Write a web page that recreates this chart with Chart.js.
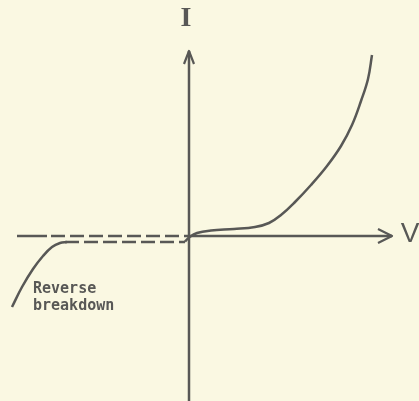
<!DOCTYPE html>
<html>
<head>
<meta charset="utf-8">
<script src="https://cdn.jsdelivr.net/npm/chart.js@4.4.1/dist/chart.umd.min.js"></script>
<style>
  html, body { margin: 0; padding: 0; background: #faf8e2; }
  #wrap { width: 419px; height: 401px; }
</style>
</head>
<body>
<div id="wrap"><canvas id="c" width="419" height="401"></canvas></div>
<script>
// Axis labels
const xAxisLabel = "V";
const yAxisLabel = "I";
const annotationLines = ["Reverse", "breakdown"];

// Forward-bias characteristic (V, I) in drawing units
const forwardV = [-4, 0, 8, 22, 45, 66, 80, 92, 106, 122, 138, 152, 163, 172, 179, 183];
const forwardI = [-5.5, -1.5, 3, 5.5, 7, 9, 13, 21, 34, 51, 70, 90, 111, 135, 157, 181];

// Reverse saturation region (dashed, flat)
const reverseV = [-124, -4];
const reverseI = [-6, -6];

// Reverse breakdown region (solid)
const breakdownV = [-177, -167, -156, -146, -137, -129, -122];
const breakdownI = [-71, -51, -33, -20, -11, -7, -6];

// Axes extents
const axisXmin = -172, axisXsolidEnd = -142, axisXdashStart = -138, axisXmax = 203;
const axisYmin = -170, axisYmax = 185;

const ink = "#585856";

function pts(xs, ys) { return xs.map((x, i) => ({ x: x, y: ys[i] })); }

const labelPlugin = {
  id: "labels",
  beforeDraw(chart) {
    const ctx = chart.ctx;
    ctx.save();
    ctx.fillStyle = "#faf8e2";
    ctx.fillRect(0, 0, chart.width, chart.height);
    ctx.restore();
  },
  afterDatasetsDraw(chart) {
    const ctx = chart.ctx, xs = chart.scales.x, ys = chart.scales.y;
    ctx.save();
    ctx.fillStyle = ink;
    ctx.textBaseline = "middle";
    ctx.textAlign = "center";
    ctx.font = "bold 28px 'Liberation Serif'";
    ctx.fillText(yAxisLabel, xs.getPixelForValue(-3), ys.getPixelForValue(217));
    ctx.font = "28px 'Liberation Sans'";
    ctx.fillText(xAxisLabel, xs.getPixelForValue(221), ys.getPixelForValue(2));
    ctx.textAlign = "left";
    ctx.font = "bold 15px 'DejaVu Sans Mono'";
    ctx.fillText(annotationLines[0], xs.getPixelForValue(-156), ys.getPixelForValue(-53));
    ctx.fillText(annotationLines[1], xs.getPixelForValue(-156), ys.getPixelForValue(-70));
    ctx.restore();
  }
};

const base = { borderColor: ink, borderWidth: 2.5, pointRadius: 0, showLine: true, fill: false, tension: 0 };

new Chart(document.getElementById("c"), {
  type: "scatter",
  data: {
    datasets: [
      Object.assign({}, base, { data: [{ x: 0, y: axisYmin }, { x: 0, y: axisYmax }] }),
      Object.assign({}, base, { data: [{ x: -5, y: 172 }, { x: 0, y: axisYmax }, { x: 5, y: 172 }], borderWidth: 2.2 }),
      Object.assign({}, base, { data: [{ x: 0, y: 0 }, { x: axisXmax, y: 0 }] }),
      Object.assign({}, base, { data: [{ x: 189, y: 7 }, { x: axisXmax, y: 0 }, { x: 189, y: -7 }], borderWidth: 2.2 }),
      Object.assign({}, base, { data: [{ x: axisXmin, y: 0 }, { x: axisXsolidEnd, y: 0 }] }),
      Object.assign({}, base, { data: [{ x: axisXdashStart, y: 0 }, { x: 0, y: 0 }], borderDash: [14, 5] }),
      Object.assign({}, base, { data: pts(reverseV, reverseI), borderDash: [14, 5] }),
      Object.assign({}, base, { data: pts(breakdownV, breakdownI), tension: 0.4 }),
      Object.assign({}, base, { data: pts(forwardV, forwardI), tension: 0.4 })
    ]
  },
  options: {
    responsive: false,
    animation: false,
    layout: { padding: 0 },
    plugins: { legend: { display: false }, tooltip: { enabled: false } },
    scales: {
      x: { type: "linear", min: -189, max: 230, display: false },
      y: { type: "linear", min: -165, max: 236, display: false }
    },
    elements: { line: { borderCapStyle: "butt", borderJoinStyle: "round" } }
  },
  plugins: [labelPlugin]
});
</script>
</body>
</html>
